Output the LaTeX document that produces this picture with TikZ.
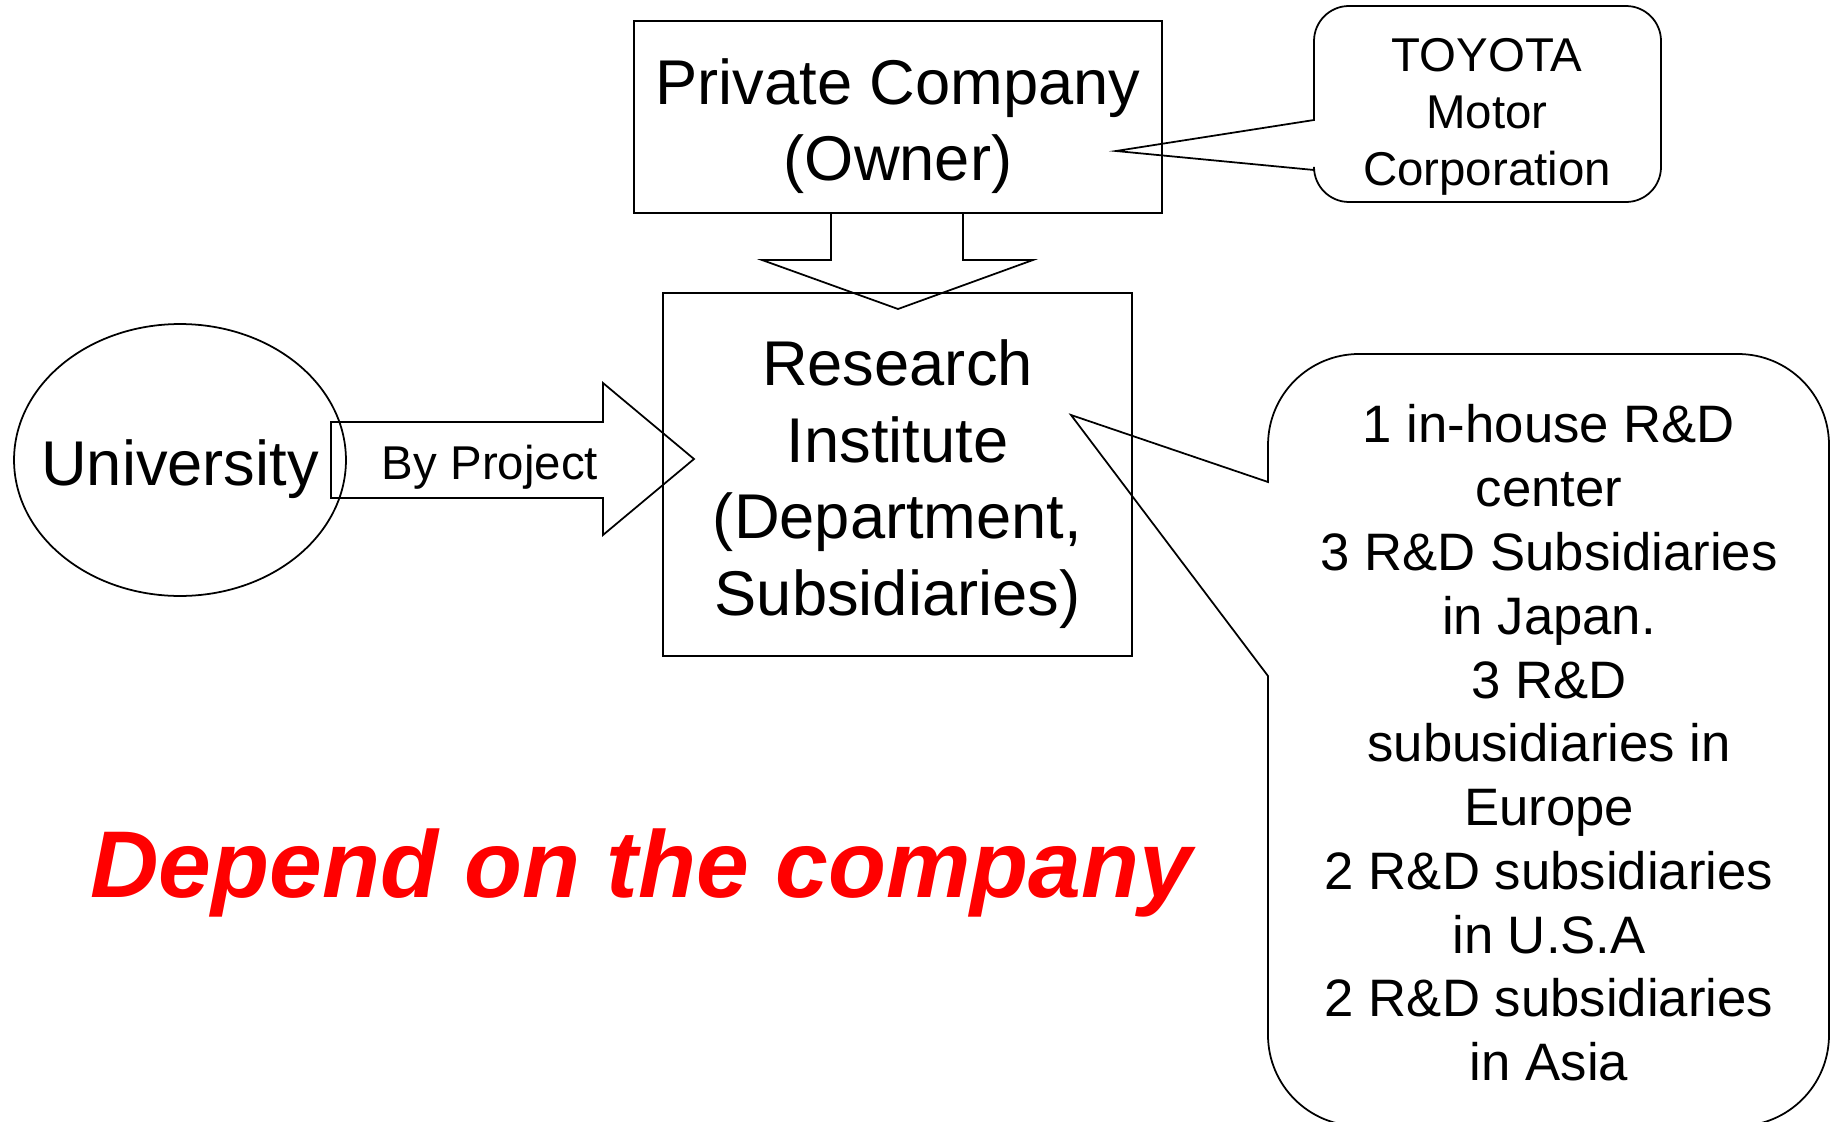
\documentclass[tikz,border=0pt]{standalone}
\usepackage{fontspec}
\setmainfont{Liberation Sans}
\usetikzlibrary{shapes.geometric}
\begin{document}
\begin{tikzpicture}[x=0.02cm,y=0.02cm,
  line width=1pt,
  boxshape/.style={draw,rectangle,inner sep=0pt},
  bigtext/.style={font=\fontsize{36}{43.6}\selectfont,align=center},
  midtext/.style={font=\fontsize{27}{32.5}\selectfont,align=center},
  listtext/.style={font=\fontsize{30}{36.3}\selectfont,align=center},
  outline/.style={draw,line join=miter}]
\useasboundingbox (0,0) rectangle (1833,-1122);
% Private company box
\node[boxshape,minimum width=10.56cm,minimum height=3.84cm] (owner) at (898,-117) {};
\node[bigtext] (ownertext) at (898,-126) {Private Company\\(Owner)};
% Research institute box
\node[boxshape,minimum width=9.38cm,minimum height=7.26cm] (inst) at (897.5,-474.5) {};
\node[bigtext] (insttext) at (897.5,-484) {Research\\Institute\\(Department,\\Subsidiaries)};
% University ellipse
\node[draw,ellipse,inner sep=0pt,minimum width=6.64cm,minimum height=5.44cm] (uni) at (180,-460) {};
\node[bigtext] (unitext) at (180,-469) {University};
% Down block arrow
\draw[outline] (831,-213) -- (831,-260) -- (762,-260) -- (898,-309) -- (1033,-260) -- (963,-260) -- (963,-213);
% Right block arrow
\draw[outline] (331,-422) -- (603,-422) -- (603,-383) -- (694,-459) -- (603,-535) -- (603,-498) -- (331,-498) -- cycle;
\node[midtext] (proj) at (490,-467) {By Project};
% Toyota callout
\draw[outline] (1314,-120) -- (1116,-151) -- (1314,-170) -- (1314,-167)
  arc[start angle=180,end angle=270,radius=0.7cm] -- (1626,-202)
  arc[start angle=270,end angle=360,radius=0.7cm] -- (1661,-41)
  arc[start angle=0,end angle=90,radius=0.7cm] -- (1349,-6)
  arc[start angle=90,end angle=180,radius=0.7cm] -- cycle;
\node[midtext] (toyota) at (1487,-117) {TOYOTA\\Motor\\Corporation};
% Subsidiaries callout
\draw[outline] (1268,-482) -- (1071,-415) -- (1268,-676) -- (1268,-1035)
  arc[start angle=180,end angle=270,radius=1.82cm] -- (1738,-1126)
  arc[start angle=270,end angle=360,radius=1.82cm] -- (1829,-445)
  arc[start angle=0,end angle=90,radius=1.82cm] -- (1359,-354)
  arc[start angle=90,end angle=180,radius=1.82cm] -- cycle;
\node[listtext] (subs) at (1549,-743) {1 in-house R\&D\\center\\3 R\&D Subsidiaries\\in Japan.\\3 R\&D\\subusidiaries in\\Europe\\2 R\&D subsidiaries\\in U.S.A\\2 R\&D subsidiaries\\in Asia};
% Red statement
\node[anchor=base,text=red,font=\fontsize{54}{60}\selectfont\bfseries\itshape] (depend) at (641,-897) {Depend on the company};
\end{tikzpicture}
\end{document}
